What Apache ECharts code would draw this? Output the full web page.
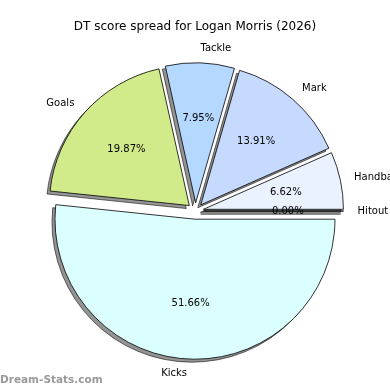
<!DOCTYPE html>
<html><head><meta charset="utf-8">
<script src="https://cdn.jsdelivr.net/npm/echarts@6/dist/echarts.min.js"></script>
<style>html,body{margin:0;padding:0;background:#fff}#c{width:390px;height:390px}</style>
</head><body><div id="c"></div>
<script>
var categories = ['Hitout', 'Handball', 'Mark', 'Tackle', 'Goals', 'Kicks'];
var values = [0, 10, 21, 12, 30, 78];
var colors = ['#ffffff', '#eaf1ff', '#c6d9ff', '#b5d8ff', '#d1eb8b', '#dbffff'];
var titleText = 'DT score spread for Logan Morris (2026)';
var watermark = 'Dream-Stats.com';

var total = values.reduce(function (a, b) { return a + b; }, 0);
var R = 140, CX = 195.4, CY = 211, OFF = 8.2, SH = 3;
var FONT = 'DejaVu Sans';

function mkData(color) {
  return categories.map(function (c, i) {
    return {
      name: c, value: values[i], selected: true,
      itemStyle: { color: color || colors[i] }
    };
  });
}

var common = {
  type: 'pie', startAngle: 0, clockwise: false,
  selectedMode: 'multiple', selectedOffset: OFF,
  avoidLabelOverlap: false, stillShowZeroSum: true, minAngle: 0,
  emphasis: { disabled: true }
};

var chart = echarts.init(document.getElementById('c'), null, { renderer: 'canvas' });
chart.setOption({
  animation: false,
  backgroundColor: '#ffffff',
  title: {
    text: titleText, left: 'center', top: 16,
    textStyle: { fontFamily: FONT, fontSize: 12, fontWeight: 'normal', color: '#000' }
  },
  graphic: [{
    type: 'text', left: 0, top: 375,
    style: { text: watermark, fill: '#999999', font: 'bold 10.5px "DejaVu Sans"' }
  }],
  series: [
    Object.assign({}, common, {
      center: [CX - SH, CY + SH], radius: [0, R], silent: true,
      itemStyle: { borderColor: 'rgba(0,0,0,0.55)', borderWidth: 1 },
      label: { show: false }, labelLine: { show: false },
      data: mkData('rgba(0,0,0,0.42)')
    }),
    Object.assign({}, common, {
      center: [CX, CY], radius: [0, R],
      itemStyle: { borderColor: '#000', borderWidth: 0.8 },
      label: {
        show: true, position: 'outside', fontFamily: FONT, fontSize: 10, color: '#000',
        distanceToLabelLine: 0, overflow: 'none'
      },
      labelLine: { show: false, length: R * 0.1, length2: 0 },
      data: mkData(null)
    }),
    Object.assign({}, common, {
      center: [CX, CY], radius: [0, R * 1.16], silent: true,
      itemStyle: { borderWidth: 0 },
      label: {
        show: true, position: 'inside', fontFamily: FONT, fontSize: 10, color: '#000',
        formatter: function (p) { return (p.value / total * 100).toFixed(2) + '%'; }
      },
      labelLine: { show: false },
      data: mkData('rgba(0,0,0,0)')
    })
  ]
});
</script></body></html>
